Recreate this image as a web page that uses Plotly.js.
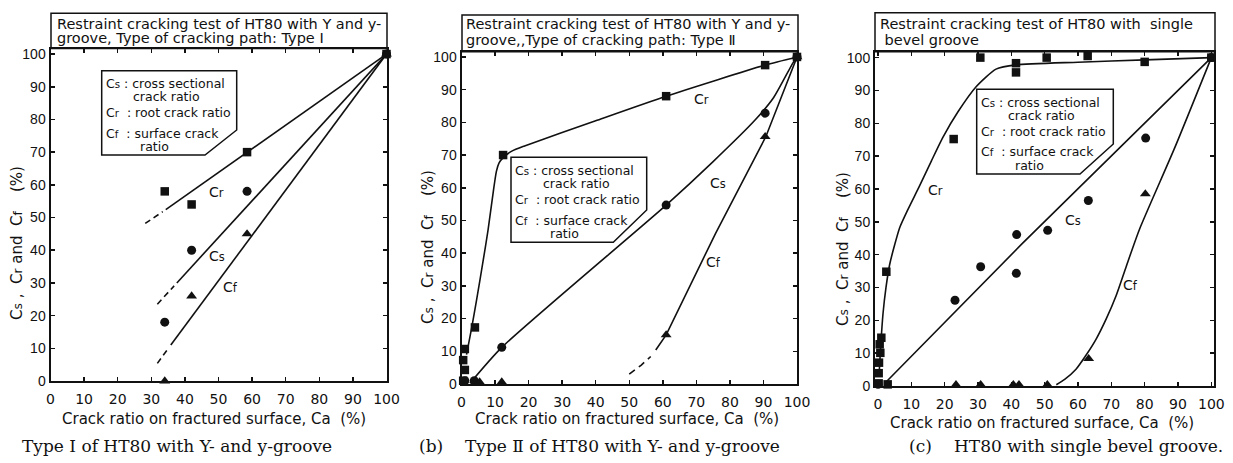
<!DOCTYPE html>
<html><head><meta charset="utf-8">
<script src="https://cdn.plot.ly/plotly-3.0.1.min.js"></script>
<style>html,body{margin:0;padding:0;background:#fff}#chart{width:1233px;height:463px}</style>
</head><body><div id="chart"></div>
<script>
// ---------- Panel (a): Type I, Y and y-groove ----------
const aCrX = [34, 42, 58.5, 100];
const aCrY = [58, 54, 70, 100];
const aCsX = [34, 42, 58.5, 100];
const aCsY = [18, 40, 58, 100];
const aCfX = [34, 42, 58.5, 100];
const aCfY = [0, 26, 45, 100];
const aCrLineX = [34.3, 100], aCrLineY = [52.4, 100];
const aCrDashX = [28.2, 33.4], aCrDashY = [48.2, 51.8];
const aCsLineX = [37.6, 100], aCsLineY = [30, 100];
const aCsDashX = [31.8, 36.8], aCsDashY = [23.5, 29.1];
const aCfLineX = [35.8, 100], aCfLineY = [11, 100];
const aCfDashX = [31.8, 35.2], aCfDashY = [5.4, 10.2];

// ---------- Panel (b): Type II, Y and y-groove ----------
const bCrX = [0.5, 1, 0.5, 1, 4, 12.4, 61, 90.5, 100];
const bCrY = [1, 4.3, 7.3, 10.7, 17.3, 70, 88, 97.5, 100];
const bCsX = [1, 3.8, 12, 61, 90.5, 100];
const bCsY = [1, 1, 11.2, 54.7, 82.8, 100];
const bCfX = [5.4, 12, 61, 90.5, 100];
const bCfY = [0.6, 0.6, 15, 75.6, 100];
const bCrLineX = [1.5, 3, 4.5, 6.5, 7.9, 9.5, 10.4, 11.2, 12.5, 15, 18.8, 40, 61, 90.5, 100];
const bCrLineY = [9, 17, 25.7, 38, 47, 59, 65, 67.6, 69.3, 71.2, 72.8, 80.5, 88, 97.5, 100];
const bCsLineX = [2.5, 12, 61, 75, 87.5, 93, 98.8, 100];
const bCsLineY = [0.2, 11.2, 54.7, 68, 80.7, 87.5, 98.2, 100];
const bCfDashX = [50, 53.5, 56.4], bCfDashY = [3, 5.7, 8.4];
const bCfLineX = [57.9, 61, 75.7, 90.7, 100];
const bCfLineY = [10.4, 15, 46, 75.6, 100];

// ---------- Panel (c): single bevel groove ----------
const cCrX = [0.2, 0.2, 0.3, 0.7, 0.5, 1, 2.9, 2.5, 22.7, 30.7, 41.4, 41.4, 50.6, 62.9, 80, 100];
const cCrY = [0.8, 3.9, 7.1, 10.1, 12.7, 14.7, 0.5, 34.8, 75.2, 100, 98.3, 95.5, 100, 100.5, 98.7, 100];
const cCsX = [0, 23.1, 30.8, 41.5, 41.6, 50.9, 63.1, 80.3, 100];
const cCsY = [0.5, 26.1, 36.3, 34.3, 46.1, 47.4, 56.5, 75.5, 100];
const cCfX = [23.4, 30.8, 40.6, 42.3, 50.8, 63.2, 80.2, 101];
const cCfY = [0.4, 0.4, 0.4, 0.4, 0.4, 8.3, 58.5, 100];
const cCrLineX = [0.3, 0.8, 1.5, 2.4, 3.5, 5, 6.5, 9, 12.5, 16, 19.5, 24, 29.5, 35.4, 41.4, 60, 80, 100];
const cCrLineY = [3, 12, 22, 30, 37, 43, 48.2, 53.8, 61, 68.5, 75.8, 83.5, 91.2, 96.5, 97.8, 98.6, 99.3, 100];
const cCsLineX = [2.2, 43.4, 100], cCsLineY = [1, 43.5, 100];
const cCfLineX = [53.5, 56, 59.4, 62.5, 65.4, 68.5, 71.4, 74.5, 78.4, 89, 100];
const cCfLineY = [0.4, 2, 5.1, 9.5, 14.2, 20.5, 27.4, 36.5, 47.6, 72.5, 100];

// ---------- texts ----------
const S = c => 'C<span style="font-size:82%">' + c + '</span>';
const titlesA = ["Restraint cracking test of HT80 with Y and y-", "groove, Type of cracking path: Type Ⅰ"];
const titlesB = ["Restraint cracking test of HT80 with Y and y-", "groove,,Type of cracking path: Type Ⅱ"];
const titlesC = ["Restraint cracking test of HT80 with  single", " bevel groove"];
const legendLines = [S('s') + " : cross sectional", "crack ratio", S('r') + "  : root crack ratio", S('f') + "  : surface crack", "ratio"];
const yTitle = S('s') + " ,  " + S('r') + " and  " + S('f') + "    (%)";
const xTitle = "Crack ratio on fractured surface, Ca  (%)";
const captionA = "Type I of HT80 with Y- and y-groove";
const captionB = ["(b)", "Type Ⅱ of HT80 with Y- and y-groove"];
const captionC = ["(c)", "HT80 with single bevel groove."];

const W = 1233, H = 463;
const INK = '#111';
const SANS = 'DejaVu Sans, sans-serif';
const px = v => v / W, py = v => 1 - v / H;

const traces = [];
function markers(x, y, sym, size, xa, ya) {
  traces.push({x, y, xaxis: xa, yaxis: ya, type: 'scatter', mode: 'markers', cliponaxis: false,
    marker: {symbol: sym, size, color: INK, line: {width: 0}}, hoverinfo: 'skip', showlegend: false});
}
function line(x, y, xa, ya, dash, shape) {
  traces.push({x, y, xaxis: xa, yaxis: ya, type: 'scatter', mode: 'lines', cliponaxis: false,
    line: {color: INK, width: 1.6, dash: dash || 'solid', shape: shape || 'linear', smoothing: 0.6},
    hoverinfo: 'skip', showlegend: false});
}
// Panel a
line(aCrLineX, aCrLineY, 'x', 'y'); line(aCrDashX, aCrDashY, 'x', 'y', '6px,4px');
line(aCsLineX, aCsLineY, 'x', 'y'); line(aCsDashX, aCsDashY, 'x', 'y', '6px,4px');
line(aCfLineX, aCfLineY, 'x', 'y'); line(aCfDashX, aCfDashY, 'x', 'y', '6px,4px');
markers(aCrX, aCrY, 'square', 8.5, 'x', 'y');
markers(aCsX, aCsY, 'circle', 9, 'x', 'y');
markers(aCfX, aCfY, 'triangle-up', 9.5, 'x', 'y');
// Panel b
line(bCrLineX, bCrLineY, 'x2', 'y2', null, 'spline');
line(bCsLineX, bCsLineY, 'x2', 'y2', null, 'spline');
line(bCfDashX, bCfDashY, 'x2', 'y2', '7px,5px');
line(bCfLineX, bCfLineY, 'x2', 'y2');
markers(bCrX, bCrY, 'square', 8.5, 'x2', 'y2');
markers(bCsX, bCsY, 'circle', 9, 'x2', 'y2');
markers(bCfX, bCfY, 'triangle-up', 9.5, 'x2', 'y2');
// Panel c
line(cCrLineX, cCrLineY, 'x3', 'y3', null, 'spline');
line(cCsLineX, cCsLineY, 'x3', 'y3');
line(cCfLineX, cCfLineY, 'x3', 'y3', null, 'spline');
markers(cCrX, cCrY, 'square', 8.5, 'x3', 'y3');
markers(cCsX, cCsY, 'circle', 9, 'x3', 'y3');
markers(cCfX, cCfY, 'triangle-up', 9.5, 'x3', 'y3');

function xax(l, r, range, anchor) {
  return {domain: [px(l), px(r)], range, anchor, showline: true, linecolor: INK, linewidth: 2, mirror: 'ticks',
    ticks: 'inside', ticklen: 4, tickwidth: 1.5, tickcolor: INK, showgrid: false, zeroline: false,
    tickvals: [0,10,20,30,40,50,60,70,80,90,100],
    tickfont: {family: SANS, size: 14, color: INK}, ticklabelstandoff: 4, fixedrange: true, automargin: false};
}
function yax(b, t, range, anchor) {
  return {domain: [py(b), py(t)], range, anchor, showline: true, linecolor: INK, linewidth: 2, mirror: 'ticks',
    ticks: 'inside', ticklen: 4, tickwidth: 1.5, tickcolor: INK, showgrid: false, zeroline: false,
    tickvals: [0,10,20,30,40,50,60,70,80,90,100],
    tickfont: {family: 'Liberation Sans, sans-serif', size: 14, color: INK}, ticklabelstandoff: 0, fixedrange: true, automargin: false};
}

const ann = [], shapes = [];
function A(x, y, text, o) {
  o = o || {};
  ann.push({xref: 'paper', yref: 'paper', x: px(x), y: py(y), text, showarrow: false,
    xanchor: o.xa || 'left', yanchor: 'middle', textangle: o.angle || 0,
    font: {family: o.family || SANS, size: o.size || 14, color: INK}});
}
function rect(x0, y0, x1, y1) {
  shapes.push({type: 'rect', xref: 'paper', yref: 'paper', x0: px(x0), x1: px(x1), y0: py(y1), y1: py(y0),
    line: {color: INK, width: 1.5}, fillcolor: 'rgba(0,0,0,0)'});
}
function legendBox(l, t, r, cutY, cutX, b) {
  const pts = [[l, t], [r, t], [r, cutY], [cutX, b], [l, b]];
  const path = 'M ' + pts.map(p => px(p[0]) + ',' + py(p[1])).join(' L ') + ' Z';
  shapes.push({type: 'path', xref: 'paper', yref: 'paper', path, layer: 'above',
    line: {color: INK, width: 1.5}, fillcolor: '#fff'});
  const rows = [13.3, 26.2, 42, 62.7, 76];
  const lefts = [1.8, 29.5, 1.8, 1.8, 36.5];
  legendLines.forEach((s, i) => A(l + lefts[i], t + rows[i], s, {size: 12.5}));
}

// title boxes
rect(51, 13.3, 387, 48.5); A(55, 23.5, titlesA[0], {size: 14.5}); A(55, 38.5, titlesA[1], {size: 14.5});
rect(462, 15, 798, 51.7); A(463.5, 23.5, titlesB[0], {size: 14.5}); A(463.5, 40, titlesB[1], {size: 14.5});
rect(875, 12.7, 1215, 51.7); A(877.5, 24, titlesC[0], {size: 14.5}); A(877.5, 39.5, titlesC[1], {size: 14.5});

// legend boxes
legendBox(101.7, 70.7, 236.7, 130, 205, 155);
legendBox(511, 157.3, 646.7, 210, 613.3, 242.3);
legendBox(976.7, 89.3, 1113.3, 144, 1080, 174);

// curve labels
A(216.7, 191.7, S('r'), {xa: 'center'}); A(216.7, 256, S('s'), {xa: 'center'}); A(230, 286.7, S('f'), {xa: 'center'});
A(701.7, 99, S('r'), {xa: 'center'}); A(718.3, 182.7, S('s'), {xa: 'center'}); A(713.3, 261.7, S('f'), {xa: 'center'});
A(935, 190, S('r'), {xa: 'center'}); A(1073.3, 220, S('s'), {xa: 'center'}); A(1130, 285, S('f'), {xa: 'center'});

// axis titles
A(17, 243, yTitle, {xa: 'center', angle: -90, size: 15});
A(428, 247, yTitle, {xa: 'center', angle: -90, size: 15});
A(843, 249, yTitle, {xa: 'center', angle: -90, size: 15});
A(214, 419, xTitle, {xa: 'center', size: 15});
A(626.7, 418.5, xTitle, {xa: 'center', size: 15});
A(1041.7, 422.5, xTitle, {xa: 'center', size: 15});

// captions
const SERIF = 'DejaVu Serif, serif';
A(20, 446, captionA, {family: SERIF, size: 17});
A(416.7, 446, captionB[0], {family: SERIF, size: 17}); A(463, 446, captionB[1], {family: SERIF, size: 17});
A(906.7, 446, captionC[0], {family: SERIF, size: 17}); A(951.7, 446, captionC[1], {family: SERIF, size: 17});

const layout = {
  width: W, height: H, margin: {l: 0, r: 0, t: 0, b: 0}, paper_bgcolor: '#fff', plot_bgcolor: '#fff',
  showlegend: false,
  xaxis: xax(50.5, 386.5, [0, 100], 'y'),
  yaxis: yax(381, 48.5, [0, 101.7], 'x'),
  xaxis2: xax(461.5, 797, [0, 100], 'y2'),
  yaxis2: yax(384, 51.7, [0, 101.6], 'x2'),
  xaxis3: xax(875, 1214, [-0.9, 100.8], 'y3'),
  yaxis3: yax(386, 51.7, [0, 101.8], 'x3'),
  annotations: ann, shapes
};
Plotly.newPlot('chart', traces, layout, {staticPlot: true, displayModeBar: false});
</script></body></html>
